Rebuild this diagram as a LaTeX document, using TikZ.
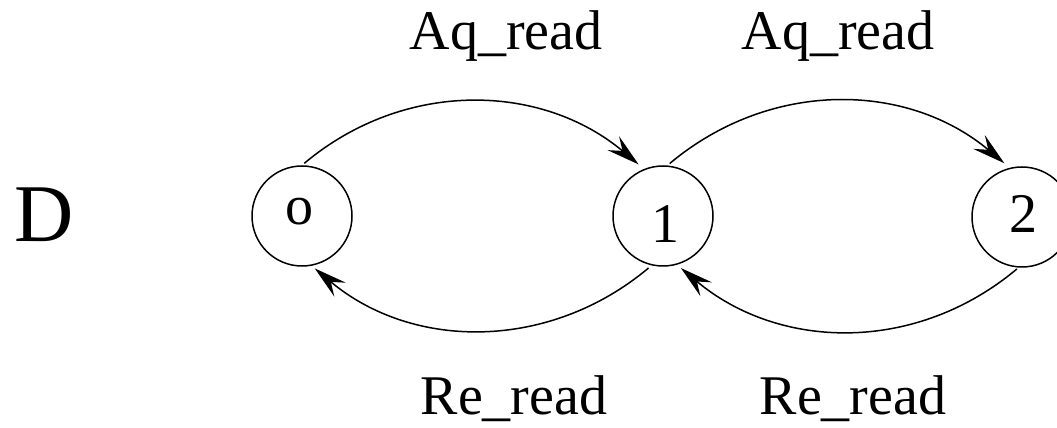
\documentclass[tikz,border=0pt]{standalone}
\usepackage{fontspec}
\setmainfont{Liberation Serif}
\usetikzlibrary{arrows.meta}

\begin{document}
\begin{tikzpicture}[x=1pt,y=1pt,line width=1.5pt,
    state/.style={draw,circle,minimum size=100pt,inner sep=0pt},
    lbl/.style={font=\fontsize{56}{60}\selectfont,inner sep=0pt,anchor=base},
    trans/.style={-{Stealth[length=33pt,width=18pt,inset=12pt]}}]
        \useasboundingbox (0,0) rectangle (1057,428);
        % states, the last one runs off the right edge
        \node[state] (s0) at (302,212) {};
        \node[state] (s1) at (663,212) {};
        \node[state] (s2) at (1022,211) {};
        % names inside the circles, each at its own height
        \node[lbl] (n0) at (299,203) {o};
        \node[lbl] (n1) at (665,185) {1};
        \node[lbl] (n2) at (1023,195) {2};
        \node[lbl,font=\fontsize{82}{86}\selectfont] (dname) at (44,186) {D};
        % upper arcs: left to right
        \draw[trans,shorten <=3pt,shorten >=7pt] (s0.90) to[out=40,in=140] (s1.112);
        \draw[trans,shorten <=3pt,shorten >=7pt] (s1.85) to[out=40,in=140] (s2.104);
        % lower arcs: right to left
        \draw[trans,shorten <=4pt,shorten >=4pt] (s1.257) to[out=220,in=320] (s0.281);
        \draw[trans,shorten <=2pt,shorten >=5pt] (s2.266) to[out=220,in=320] (s1.286);
        % arc labels
        \node[lbl] (aq01) at (506,378) {Aq\_read};
        \node[lbl] (aq12) at (838,378) {Aq\_read};
        \node[lbl] (re10) at (514,13) {Re\_read};
        \node[lbl] (re21) at (853,13) {Re\_read};
      \end{tikzpicture}
\end{document}
